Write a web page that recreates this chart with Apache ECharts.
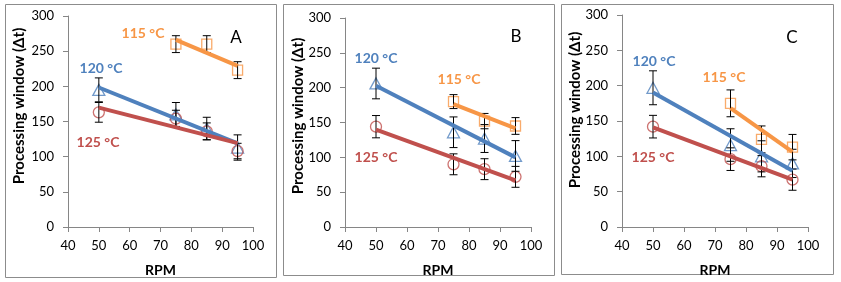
<!DOCTYPE html>
<html>
<head>
<meta charset="utf-8">
<script src="https://cdn.jsdelivr.net/npm/echarts@6/dist/echarts.min.js"></script>
<style>
html,body{margin:0;padding:0;background:#fff;}
#chart{width:841px;height:282px;}
</style>
</head>
<body>
<div id="chart"></div>
<script>
// ---- data ----
const rpm = [50, 75, 85, 95];
const xTicks = [40, 50, 60, 70, 80, 90, 100];
const yTicks = [0, 50, 100, 150, 200, 250, 300];
const panelNames = ['A', 'B', 'C'];
const seriesNames = ['115 °C', '120 °C', '125 °C'];

// Panel A
const A_115 = [null, 260, 260, 223];
const A_115_err = [null, 12, 12, 12];
const A_120 = [195, 160, 140, 113];
const A_120_err = [17, 17, 16, 18];
const A_125 = [163, 154, 136, 108];
const A_125_err = [14, 12, 12, 11];

// Panel B
const B_115 = [null, 180, 152, 145];
const B_115_err = [null, 10, 11, 12];
const B_120 = [206, 136, 127, 102];
const B_120_err = [22, 22, 20, 22];
const B_125 = [144, 90, 83, 72];
const B_125_err = [16, 15, 15, 15];

// Panel C
const C_115 = [null, 175, 124, 113];
const C_115_err = [null, 19, 19, 18];
const C_120 = [197, 116, 100, 90];
const C_120_err = [24, 23, 22, 20];
const C_125 = [142, 96, 86, 67];
const C_125_err = [16, 16, 15, 15];

// ---- styling / layout ----
const FONT = 'Lato';
const colors = ['#F79646', '#4F81BD', '#C0504D'];
const symbols = ['rect', 'triangle', 'circle'];
const symSizes = [[10, 10], [12, 11], [11, 11]];
const axisColor = '#868686';

const panels = [
  { data: [[A_115, A_115_err], [A_120, A_120_err], [A_125, A_125_err]],
    grid: { left: 68, top: 16, width: 185, height: 214 },
    box: [5, 4, 271, 273], ytitle: [19, 106],
    labels: [[143, 33], [101, 68], [98, 142]], letter: [236, 38] },
  { data: [[B_115, B_115_err], [B_120, B_120_err], [B_125, B_125_err]],
    grid: { left: 345, top: 18, width: 186, height: 212 },
    box: [283, 4, 271, 271], ytitle: [298, 116],
    labels: [[459, 79], [376, 58], [376, 157]], letter: [516, 37] },
  { data: [[C_115, C_115_err], [C_120, C_120_err], [C_125, C_125_err]],
    grid: { left: 622, top: 15, width: 186, height: 213 },
    box: [561, 4, 272, 270], ytitle: [575, 110],
    labels: [[724, 77], [654, 61], [653, 157]], letter: [792, 38] }
];

function linFit(xs, ys) {
  const pts = [];
  xs.forEach((x, i) => { if (ys[i] != null) pts.push([x, ys[i]]); });
  const n = pts.length;
  const mx = pts.reduce((s, p) => s + p[0], 0) / n;
  const my = pts.reduce((s, p) => s + p[1], 0) / n;
  let sxy = 0, sxx = 0;
  pts.forEach(p => { sxy += (p[0] - mx) * (p[1] - my); sxx += (p[0] - mx) * (p[0] - mx); });
  const b = sxy / sxx, a = my - b * mx;
  const x0 = pts[0][0], x1 = pts[n - 1][0];
  return [[x0, a + b * x0], [x1, a + b * x1]];
}

const grids = [], xAxes = [], yAxes = [], series = [], graphics = [];

panels.forEach((p, pi) => {
  grids.push(Object.assign({ containLabel: false }, p.grid));
  xAxes.push({
    type: 'value', gridIndex: pi, min: xTicks[0], max: xTicks[xTicks.length - 1], interval: 10,
    name: 'RPM', nameLocation: 'middle', nameGap: 36,
    nameTextStyle: { fontFamily: FONT, fontWeight: 'bold', fontSize: 14, color: '#000' },
    axisLine: { show: true, lineStyle: { color: axisColor, width: 1 } },
    axisTick: { show: true, length: 5, inside: false, lineStyle: { color: axisColor } },
    axisLabel: { fontFamily: FONT, fontSize: 13, color: '#000', margin: 12 },
    splitLine: { show: false }
  });
  yAxes.push({
    type: 'value', gridIndex: pi, min: yTicks[0], max: yTicks[yTicks.length - 1], interval: 50,
    axisLine: { show: true, lineStyle: { color: axisColor, width: 1 } },
    axisTick: { show: true, length: 5, inside: false, lineStyle: { color: axisColor } },
    axisLabel: { fontFamily: FONT, fontSize: 13, color: '#000', margin: 14 },
    splitLine: { show: false }
  });

  p.data.forEach((pair, si) => {
    const vals = pair[0], errs = pair[1];
    const pts = [];
    const ebs = [];
    rpm.forEach((x, i) => {
      if (vals[i] != null) {
        pts.push([x, vals[i]]);
        ebs.push([x, vals[i], errs[i]]);
      }
    });
    // markers
    series.push({
      type: 'scatter', xAxisIndex: pi, yAxisIndex: pi, data: pts,
      symbol: symbols[si], symbolSize: symSizes[si], z: 2,
      itemStyle: { color: 'rgba(255,255,255,0)', borderColor: colors[si], borderWidth: 1.3 },
      silent: true
    });
    // error bars
    series.push({
      type: 'custom', xAxisIndex: pi, yAxisIndex: pi, data: ebs, z: 3, silent: true,
      renderItem: function (params, api) {
        const x = api.value(0), y = api.value(1), e = api.value(2);
        const top = api.coord([x, y + e]);
        const bot = api.coord([x, y - e]);
        const hw = 4;
        const st = { stroke: '#000', lineWidth: 1 };
        return {
          type: 'group', children: [
            { type: 'line', shape: { x1: top[0], y1: top[1], x2: bot[0], y2: bot[1] }, style: st },
            { type: 'line', shape: { x1: top[0] - hw, y1: top[1], x2: top[0] + hw, y2: top[1] }, style: st },
            { type: 'line', shape: { x1: bot[0] - hw, y1: bot[1], x2: bot[0] + hw, y2: bot[1] }, style: st }
          ]
        };
      }
    });
    // linear trend line
    series.push({
      type: 'line', xAxisIndex: pi, yAxisIndex: pi, data: linFit(rpm, vals),
      showSymbol: false, symbol: 'none', z: 4, silent: true,
      lineStyle: { color: colors[si], width: 4, cap: 'butt' }
    });
    // series label
    graphics.push({
      type: 'text', x: p.labels[si][0], y: p.labels[si][1], z: 10,
      style: { text: seriesNames[si], fill: colors[si], font: 'bold 14px ' + FONT,
               textAlign: 'center', textVerticalAlign: 'middle' }
    });
  });

  // panel border
  graphics.push({
    type: 'rect', shape: { x: p.box[0] + 0.5, y: p.box[1] + 0.5, width: p.box[2], height: p.box[3] },
    style: { fill: 'none', stroke: '#8c8c8c', lineWidth: 1 }, z: 0
  });
  // y-axis title
  graphics.push({
    type: 'text', x: p.ytitle[0], y: p.ytitle[1], rotation: Math.PI / 2, z: 10,
    style: { text: 'Processing window (Δt)', fill: '#000', font: 'bold 15px ' + FONT,
             textAlign: 'center', textVerticalAlign: 'middle' }
  });
  // panel letter
  graphics.push({
    type: 'text', x: p.letter[0], y: p.letter[1], z: 10,
    style: { text: panelNames[pi], fill: '#000', font: '17px ' + FONT,
             textAlign: 'center', textVerticalAlign: 'middle' }
  });
});

const chart = echarts.init(document.getElementById('chart'), null, { renderer: 'canvas' });
chart.setOption({
  animation: false,
  backgroundColor: '#fff',
  grid: grids, xAxis: xAxes, yAxis: yAxes, series: series, graphic: graphics
});
</script>
</body>
</html>
